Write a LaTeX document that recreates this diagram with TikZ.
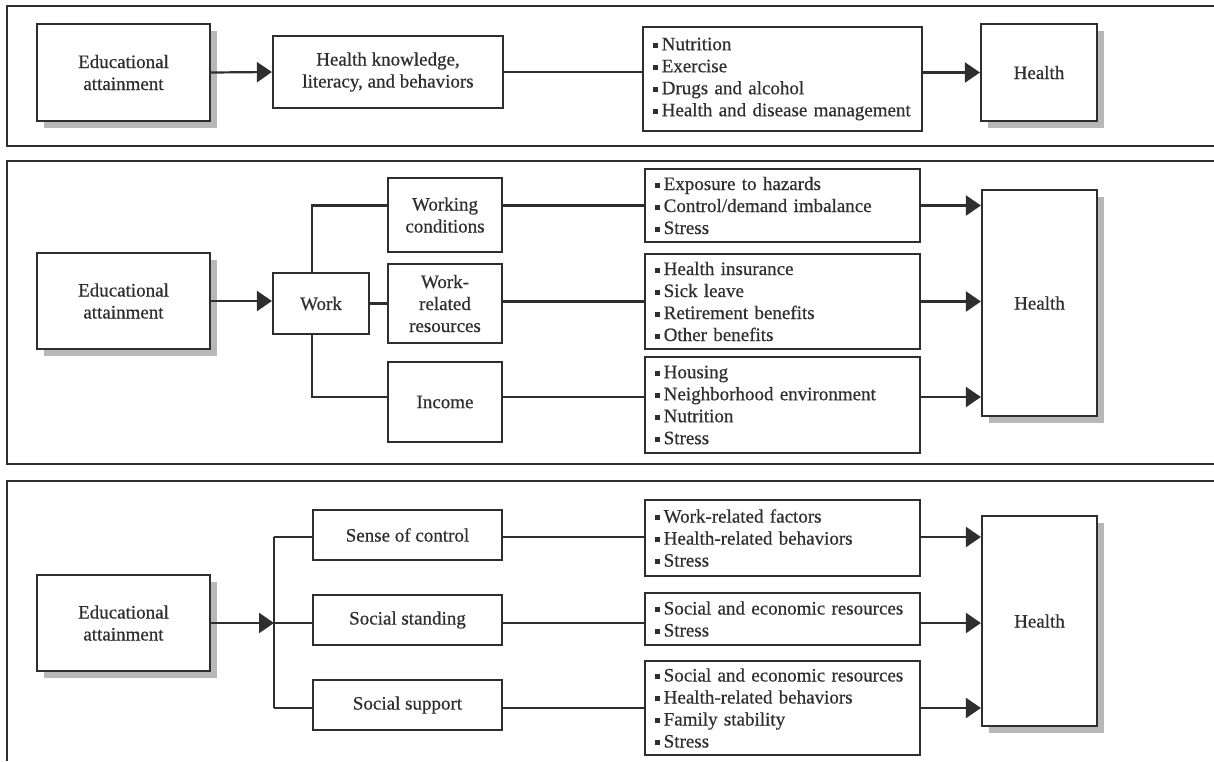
\documentclass[tikz,border=0pt]{standalone}
\usepackage{fontspec}
\setmainfont{Liberation Serif}[FakeBold=0.5]
\usetikzlibrary{arrows.meta,shadows,calc}
\newcommand{\bul}{\raisebox{0.26ex}{\rule{0.26em}{0.26em}}\hspace{0.2em}}
\definecolor{ink}{HTML}{2E2E2E}
\definecolor{shade}{HTML}{B8B8B8}
\tikzset{
  x=1pt, y=-1pt,
  txt/.style={font=\fontsize{19}{22}\selectfont, text=ink},
  box/.style={draw=ink, line width=2.2pt, fill=white, txt, align=center, inner sep=2pt},
  sbox/.style={box, drop shadow={shadow xshift=6.5pt, shadow yshift=-6.5pt, fill=shade, opacity=1}},
  blist/.style={draw=ink, line width=2.2pt, fill=white, txt, align=left, inner xsep=10pt, inner ysep=2pt,
                text width=#1},
  con/.style={draw=ink, line width=2.2pt},
  arr/.style={con, -{Triangle[length=15pt,width=20pt]}},
  frame/.style={draw=ink, line width=2.2pt},
}
\begin{document}
\begin{tikzpicture}
\useasboundingbox (0,0) rectangle (1214,761);

% ---------- frames ----------
\draw[frame] (1214,6) -- (7,6) -- (7,146) -- (1214,146);
\draw[frame] (1214,161) -- (7,161) -- (7,464) -- (1214,464);
\draw[frame] (1214,481) -- (7,481) -- (7,761);

% ---------- panel 1 ----------
\node[sbox, minimum width=173pt, minimum height=97pt] (e1) at (123.5,72.5) {Educational\\attainment};
\node[box, minimum width=230pt, minimum height=72pt] (hk) at (388,72) {Health knowledge,\\literacy, and behaviors};
\node[blist=259pt, minimum height=104pt] (b1) at (782.5,79) {\bul Nutrition\\\bul Exercise\\\bul Drugs and alcohol\\\bul Health and disease management};
\node[sbox, minimum width=116pt, minimum height=97pt] (h1) at (1039,72.5) {Health};
\draw[arr] (e1.east) -- (hk.west);
\draw[con] (hk.east) -- (hk.east -| b1.west);
\draw[arr] (b1.east |- h1.west) -- (h1.west);

% ---------- panel 2 ----------
\node[sbox, minimum width=173pt, minimum height=96pt] (e2) at (123.5,301) {Educational\\attainment};
\node[box, minimum width=96pt, minimum height=61pt] (work) at (321,303.5) {Work};
\node[box, minimum width=114pt, minimum height=74pt] (wc) at (445,215) {Working\\conditions};
\node[box, minimum width=114pt, minimum height=79pt] (wr) at (445,303.5) {Work-\\related\\resources};
\node[box, minimum width=114pt, minimum height=80pt] (inc) at (445,402) {Income};
\node[blist=255pt, minimum height=73pt] (c1) at (782.5,205.5) {\bul Exposure to hazards\\\bul Control/demand imbalance\\\bul Stress};
\node[blist=255pt, minimum height=95pt] (c2) at (782.5,301.5) {\bul Health insurance\\\bul Sick leave\\\bul Retirement benefits\\\bul Other benefits};
\node[blist=255pt, minimum height=96pt] (c3) at (782.5,405) {\bul Housing\\\bul Neighborhood environment\\\bul Nutrition\\\bul Stress};
\node[sbox, minimum width=115pt, minimum height=226pt] (h2) at (1039.5,303) {Health};
\coordinate (r3) at (0,397);
\draw[arr] (e2.east |- 0,301) -- (work.west |- 0,301);
\draw[con] ([xshift=-9pt]work.north) |- (wc.west |- c1.west);
\draw[con] ([xshift=-9pt]work.south) |- (inc.west |- r3);
\draw[con] (work.east |- wr.west) -- (wr.west);
\draw[con] (wc.east |- c1.west) -- (c1.west);
\draw[con] (wr.east |- c2.west) -- (c2.west);
\draw[con] (inc.east |- r3) -- (c3.west |- r3);
\draw[arr] (c1.east) -- (c1.east -| h2.west);
\draw[arr] (c2.east) -- (c2.east -| h2.west);
\draw[arr] (c3.east |- r3) -- (h2.west |- r3);

% ---------- panel 3 ----------
\node[sbox, minimum width=173pt, minimum height=96pt] (e3) at (123.5,623) {Educational\\attainment};
\node[box, minimum width=189pt, minimum height=50pt] (sc) at (407.5,535) {Sense of control};
\node[box, minimum width=189pt, minimum height=50pt] (ss) at (407.5,620) {Social standing};
\node[box, minimum width=189pt, minimum height=50pt] (sup) at (407.5,705) {Social support};
\node[blist=255pt, minimum height=76pt] (d1) at (782.5,538) {\bul Work-related factors\\\bul Health-related behaviors\\\bul Stress};
\node[blist=255pt, minimum height=52pt] (d2) at (782.5,619) {\bul Social and economic resources\\\bul Stress};
\node[blist=255pt, minimum height=94pt] (d3) at (782.5,708) {\bul Social and economic resources\\\bul Health-related behaviors\\\bul Family stability\\\bul Stress};
\node[sbox, minimum width=115pt, minimum height=210pt] (h3) at (1039.5,621) {Health};
\coordinate (j) at (274,623);
\coordinate (jt) at (274,537);
\coordinate (jb) at (274,708);
\draw[con] (jt) -- (jb);
\draw[arr] (e3.east |- j) -- (j);
\draw[con] (jt) -- (sc.west |- jt);
\draw[con] (j) -- (ss.west |- j);
\draw[con] (jb) -- (sup.west |- jb);
\draw[con] (sc.east |- jt) -- (d1.west |- jt);
\draw[con] (ss.east |- j) -- (d2.west |- j);
\draw[con] (sup.east |- jb) -- (d3.west |- jb);
\draw[arr] (d1.east |- jt) -- (h3.west |- jt);
\draw[arr] (d2.east |- j) -- (h3.west |- j);
\draw[arr] (d3.east |- jb) -- (h3.west |- jb);
\end{tikzpicture}
\end{document}
